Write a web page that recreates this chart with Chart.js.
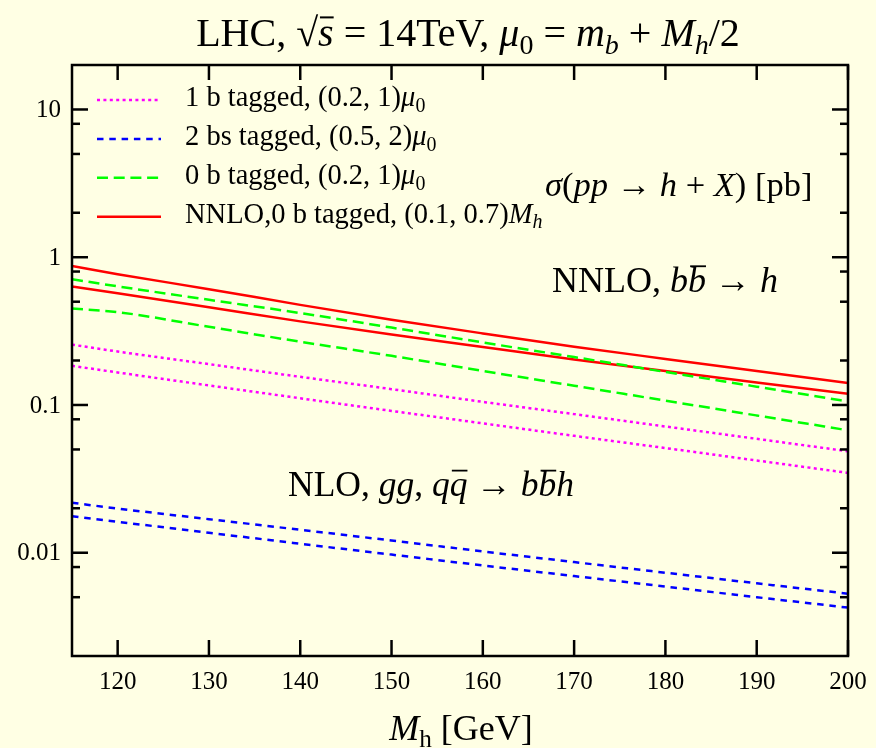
<!DOCTYPE html>
<html>
<head>
<meta charset="utf-8">
<script src="https://cdn.jsdelivr.net/npm/chart.js@4.4.1/dist/chart.umd.min.js"></script>
<style>
  html, body { margin: 0; padding: 0; background: #ffffe4; }
  canvas { display: block; }
</style>
</head>
<body>
<canvas id="xsec" width="876" height="748"></canvas>
<script>
// Higgs mass points (GeV) and cross sections (pb)
const massPoints = [115, 120, 130, 140, 150, 160, 170, 180, 190, 200];

const oneTagHigh = [0.256, 0.230, 0.189, 0.155, 0.128, 0.105, 0.0867, 0.0715, 0.059, 0.0486];
const oneTagLow = [0.184, 0.166, 0.1356, 0.111, 0.0912, 0.0751, 0.0618, 0.0511, 0.0421, 0.0347];
const twoTagHigh = [0.0218, 0.0199, 0.01687, 0.0143, 0.0121, 0.0102, 0.00864, 0.00732, 0.00621, 0.00528];
const twoTagLow = [0.01767, 0.0162, 0.01365, 0.0115, 0.00971, 0.0082, 0.00695, 0.0059, 0.0050, 0.00425];
const zeroTagHigh = [0.710, 0.635, 0.515, 0.419, 0.334, 0.265, 0.211, 0.1673, 0.133, 0.1057];
const zeroTagLow = [0.449, 0.425, 0.338, 0.268, 0.215, 0.170, 0.135, 0.107, 0.0849, 0.0674];
const nnloHigh = [0.873, 0.767, 0.608, 0.476, 0.378, 0.305, 0.248, 0.205, 0.170, 0.141];
const nnloLow = [0.633, 0.570, 0.459, 0.368, 0.300, 0.247, 0.203, 0.170, 0.142, 0.119];

const xTicks = [120, 130, 140, 150, 160, 170, 180, 190, 200];
const yMajorTicks = [0.01, 0.1, 1, 10];
const yTickLabels = ['0.01', '0.1', '1', '10'];
const yMinorTicks = [0.005, 0.008, 0.02, 0.05, 0.08, 0.2, 0.5, 0.8, 2, 5, 8];

const SERIF = '"Liberation Serif", "DejaVu Serif", serif';
const BG = '#ffffe4';

// rich text pieces: [text, style]  i = italic, s = subscript, b = overline
const mu0 = [['μ', 'i'], ['0', 's']];
const titleText = [['LHC, '], ['√'], ['s', 'ib'], [' = 14TeV, '], ...mu0, [' = '], ['m', 'i'], ['b', 'is'], [' + '], ['M', 'i'], ['h', 'is'], ['/2']];
const sigmaText = [['σ', 'i'], ['('], ['pp', 'i'], [' → '], ['h', 'i'], [' + '], ['X', 'i'], [') [pb]']];
const nnloText = [['NNLO, '], ['b', 'i'], ['b', 'ib'], [' → '], ['h', 'i']];
const nloText = [['NLO, '], ['gg', 'i'], [', '], ['q', 'i'], ['q', 'ib'], [' → '], ['b', 'i'], ['b', 'ib'], ['h', 'i']];
const xTitleText = [['M', 'i'], ['h', 's'], [' [GeV]']];
const legendLabels = [
  [['1 b tagged, (0.2, 1)'], ...mu0],
  [['2 bs tagged, (0.5, 2)'], ...mu0],
  [['0 b tagged, (0.2, 1)'], ...mu0],
  [['NNLO,0 b tagged, (0.1, 0.7)'], ['M', 'i'], ['h', 'is']],
];

function segFont(st, size) {
  const fs = st.includes('s') ? size * 0.7 : size;
  return (st.includes('i') ? 'italic ' : '') + fs + 'px ' + SERIF;
}

function drawRich(ctx, segs, x, y, size, align) {
  let total = 0;
  segs.forEach(([t, st = '']) => { ctx.font = segFont(st, size); total += ctx.measureText(t).width; });
  let cx = align === 'center' ? x - total / 2 : x;
  ctx.textAlign = 'left';
  ctx.textBaseline = 'alphabetic';
  segs.forEach(([t, st = '']) => {
    ctx.font = segFont(st, size);
    const w = ctx.measureText(t).width;
    ctx.fillText(t, cx, y + (st.includes('s') ? size * 0.2 : 0));
    if (st.includes('b')) ctx.fillRect(cx + w * 0.12, y - size * 0.74, w * 0.88, size * 0.05);
    cx += w;
  });
}

function series(values) {
  return values.map((v, i) => ({ x: massPoints[i], y: v }));
}

const styles = {
  magenta: { color: '#ff00ff', dash: [3, 3.4] },
  blue: { color: '#0000ff', dash: [6.5, 5.8] },
  green: { color: '#00ff00', dash: [11, 5.7] },
  red: { color: '#ff0000', dash: [] },
};

function curve(values, style) {
  return {
    data: series(values),
    borderColor: style.color,
    borderDash: style.dash,
    borderWidth: 2.5,
    pointRadius: 0,
    fill: false,
    cubicInterpolationMode: 'monotone',
  };
}

const legendStyles = [styles.magenta, styles.blue, styles.green, styles.red];

const framePlugin = {
  id: 'frame',
  beforeDraw(chart) {
    const { ctx, width, height } = chart;
    ctx.save();
    ctx.fillStyle = BG;
    ctx.fillRect(0, 0, width, height);
    ctx.restore();
  },
  afterDatasetsDraw(chart) {
    const { ctx, chartArea: a, scales: { x, y } } = chart;
    ctx.save();
    ctx.strokeStyle = '#000';
    ctx.fillStyle = '#000';
    ctx.lineWidth = 2.5;
    ctx.lineCap = 'butt';

    const seg = (x1, y1, x2, y2) => { ctx.beginPath(); ctx.moveTo(x1, y1); ctx.lineTo(x2, y2); ctx.stroke(); };

    xTicks.forEach(v => {
      const px = x.getPixelForValue(v);
      seg(px, a.bottom, px, a.bottom - 16);
      seg(px, a.top, px, a.top + 15);
    });
    yMajorTicks.forEach(v => {
      const py = y.getPixelForValue(v);
      seg(a.left, py, a.left + 16, py);
      seg(a.right, py, a.right - 16, py);
    });
    yMinorTicks.forEach(v => {
      const py = y.getPixelForValue(v);
      seg(a.left, py, a.left + 8, py);
      seg(a.right, py, a.right - 8, py);
    });
    ctx.strokeRect(a.left, a.top, a.right - a.left, a.bottom - a.top);

    // tick labels
    ctx.font = '25px ' + SERIF;
    ctx.textBaseline = 'middle';
    ctx.textAlign = 'center';
    xTicks.forEach(v => ctx.fillText(String(v), x.getPixelForValue(v), a.bottom + 26));
    ctx.textAlign = 'right';
    yMajorTicks.forEach((v, i) => ctx.fillText(yTickLabels[i], a.left - 11, y.getPixelForValue(v) + 1));

    // legend
    legendStyles.forEach((st, i) => {
      const ry = 100 + i * 38.9;
      ctx.strokeStyle = st.color;
      ctx.setLineDash(st.dash);
      seg(97, ry, 161, ry);
      ctx.setLineDash([]);
      drawRich(ctx, legendLabels[i], 185, ry + 6, 28.5, 'left');
    });

    // annotations
    drawRich(ctx, titleText, 468, 46, 40, 'center');
    drawRich(ctx, sigmaText, 545, 196, 34.5, 'left');
    drawRich(ctx, nnloText, 552, 292, 36, 'left');
    drawRich(ctx, nloText, 288, 496, 35.5, 'left');
    drawRich(ctx, xTitleText, 461, 740, 36, 'center');
    ctx.restore();
  },
};

new Chart(document.getElementById('xsec'), {
  type: 'line',
  data: {
    datasets: [
      curve(oneTagHigh, styles.magenta),
      curve(oneTagLow, styles.magenta),
      curve(twoTagHigh, styles.blue),
      curve(twoTagLow, styles.blue),
      curve(zeroTagHigh, styles.green),
      curve(zeroTagLow, styles.green),
      curve(nnloHigh, styles.red),
      curve(nnloLow, styles.red),
    ],
  },
  options: {
    responsive: false,
    animation: false,
    devicePixelRatio: 1,
    layout: { padding: { left: 72, top: 65, right: 28, bottom: 92 } },
    plugins: { legend: { display: false }, tooltip: { enabled: false } },
    scales: {
      x: { type: 'linear', min: 115, max: 200, display: false },
      y: { type: 'logarithmic', min: 0.002, max: 20, display: false },
    },
  },
  plugins: [framePlugin],
});
</script>
</body>
</html>
